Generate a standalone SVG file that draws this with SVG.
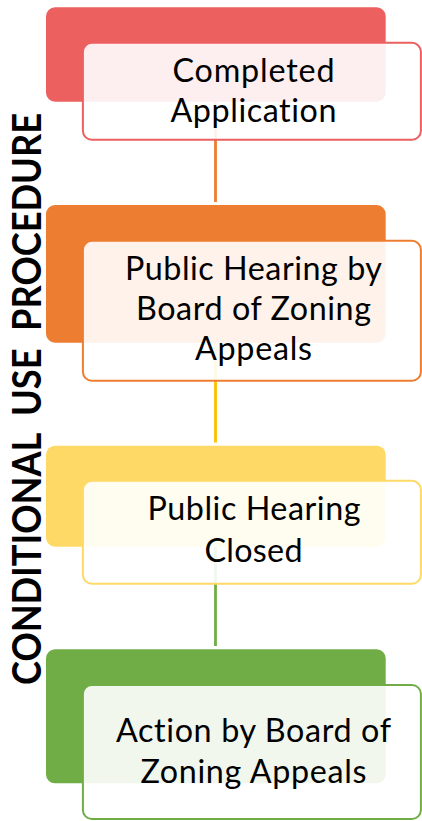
<svg xmlns="http://www.w3.org/2000/svg" width="422" height="821" viewBox="0 0 422 821">
<style>
.back{stroke:none}
.front{fill:#ffffff;fill-opacity:0.9;stroke-width:2}
.lbl{font-family:Lato,"Open Sans","Liberation Sans",sans-serif;font-size:32.3px;fill:#000;text-anchor:middle;font-variant-ligatures:none;font-feature-settings:"liga" 0}
.title{font-family:Lato,"Open Sans","Liberation Sans",sans-serif;font-size:40.5px;font-weight:bold;fill:#000;text-anchor:middle}
.conn{stroke-width:2.8;fill:none}
</style>
<rect width="422" height="821" fill="#ffffff"/>
<g id="connectors">
<line class="conn" x1="215.5" y1="102" x2="215.5" y2="202" stroke="#ED7D31"/>
<line class="conn" x1="215.5" y1="343" x2="215.5" y2="442.5" stroke="#FFC000"/>
<line class="conn" x1="215.5" y1="547" x2="215.5" y2="646" stroke="#70AD47"/>
</g>
<g id="title">
<text class="title" xml:space="preserve" transform="translate(41,399) rotate(-90)" textLength="572" lengthAdjust="spacingAndGlyphs">CONDITIONAL  USE  PROCEDURE</text>
</g>
<g id="node1">
<rect class="back" x="46" y="7.3" width="339.7" height="94.4" rx="9" fill="#EC6060"/>
<rect class="front" x="82.9" y="42.8" width="338" height="97" rx="9" stroke="#EC6060"/>
<text class="lbl" x="253.5" y="82" textLength="162">Completed</text>
<text class="lbl" x="253.5" y="122" textLength="166">Application</text>
</g>
<g id="node2">
<rect class="back" x="46" y="205" width="339.7" height="137.7" rx="9" fill="#ED7D31"/>
<rect class="front" x="82.9" y="240.8" width="338" height="140" rx="9" stroke="#ED7D31"/>
<text class="lbl" x="253.5" y="280" textLength="257">Public Hearing by</text>
<text class="lbl" x="253.5" y="320" textLength="235">Board of Zoning</text>
<text class="lbl" x="253.5" y="360" textLength="117">Appeals</text>
</g>
<g id="node3">
<rect class="back" x="46" y="445.7" width="339.7" height="101" rx="9" fill="#FFD966"/>
<rect class="front" x="82.9" y="480.8" width="338" height="103" rx="9" stroke="#FFD966"/>
<text class="lbl" x="254" y="520" textLength="213">Public Hearing</text>
<text class="lbl" x="253.5" y="562" textLength="98">Closed</text>
</g>
<g id="node4">
<rect class="back" x="46" y="649.3" width="339.7" height="134" rx="9" fill="#70AD47"/>
<rect class="front" x="82.9" y="685" width="338" height="134" rx="9" stroke="#70AD47"/>
<text class="lbl" x="253.5" y="742" textLength="275">Action by Board of</text>
<text class="lbl" x="253.5" y="783" textLength="226">Zoning Appeals</text>
</g>
</svg>
